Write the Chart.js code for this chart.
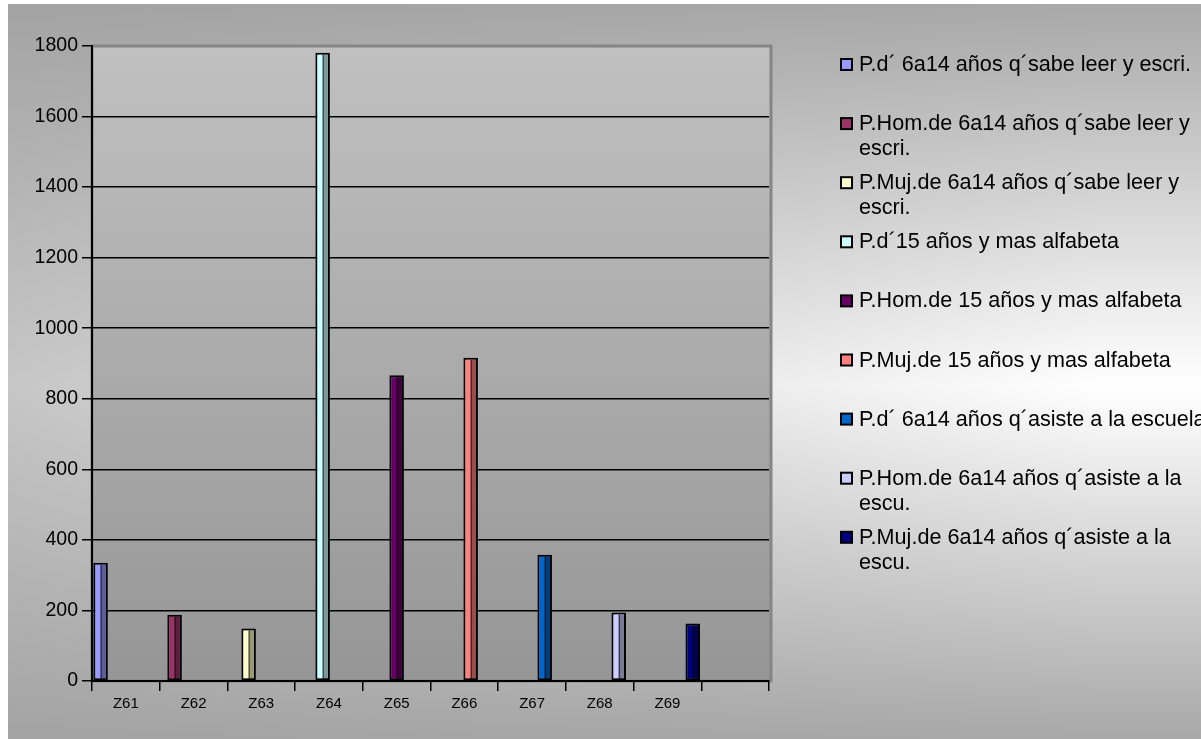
<!DOCTYPE html>
<html lang="es">
<head>
<meta charset="UTF-8">
<title>Alfabetismo y asistencia escolar por zona</title>
<script src="https://cdn.jsdelivr.net/npm/chart.js"></script>
<style>
  body { margin: 0; background: #fff; }
  #wrap { width: 1201px; height: 739px; }
</style>
</head>
<body>
<div id="wrap"><canvas id="grafico" width="1201" height="739"></canvas></div>
<script>
// zonas (la ultima categoria queda vacia, como en el original)
var zonas = ['Z61', 'Z62', 'Z63', 'Z64', 'Z65', 'Z66', 'Z67', 'Z68', 'Z69', ''];

// nombres de las series (\n = salto de linea en la leyenda)
var series = [
  'P.d\u00b4 6a14 a\u00f1os q\u00b4sabe leer y escri.',
  'P.Hom.de 6a14 a\u00f1os q\u00b4sabe leer y\nescri.',
  'P.Muj.de 6a14 a\u00f1os q\u00b4sabe leer y\nescri.',
  'P.d\u00b415 a\u00f1os y mas alfabeta',
  'P.Hom.de 15 a\u00f1os y mas alfabeta',
  'P.Muj.de 15 a\u00f1os y mas alfabeta',
  'P.d\u00b4 6a14 a\u00f1os q\u00b4asiste a la escuela',
  'P.Hom.de 6a14 a\u00f1os q\u00b4asiste a la\nescu.',
  'P.Muj.de 6a14 a\u00f1os q\u00b4asiste a la\nescu.'
];

// cada serie tiene un solo valor, en la zona del mismo indice
var valores = [335, 188, 149, 1781, 867, 916, 358, 194, 163];

var colores = ['#9999FF', '#993366', '#FFFFCC', '#CCFFFF', '#660066',
               '#FF8080', '#0066CC', '#CCCCFF', '#000080'];

var yMax = 1800;
var yPaso = 200;

var fuente = '"Liberation Sans", Arial, sans-serif';

var datasets = series.map(function (nombre, i) {
  return {
    label: nombre,
    data: zonas.map(function (z, j) { return j === i ? valores[i] : null; }),
    backgroundColor: colores[i],
    borderColor: '#000',
    borderWidth: 2,
    borderSkipped: false
  };
});

// fondo degradado + area de trazado
var fondo = {
  id: 'fondo',
  beforeDraw: function (chart) {
    var ctx = chart.ctx;
    var a = chart.chartArea;
    ctx.save();
    var g = ctx.createLinearGradient(0, 4, 0, 739);
    g.addColorStop(0, '#a8a8a8');
    g.addColorStop(0.52, '#ffffff');
    g.addColorStop(1, '#a8a8a8');
    ctx.fillStyle = g;
    ctx.fillRect(8, 4, 1193, 735);
    var h = ctx.createLinearGradient(0, 0, 1100, 0);
    h.addColorStop(0, 'rgba(160,160,160,0.6)');
    h.addColorStop(1, 'rgba(160,160,160,0)');
    ctx.fillStyle = h;
    ctx.fillRect(8, 4, 1193, 735);

    var p = ctx.createLinearGradient(0, a.top, 0, a.bottom);
    p.addColorStop(0, '#c0c0c0');
    p.addColorStop(1, '#969696');
    ctx.fillStyle = p;
    ctx.fillRect(a.left, a.top, a.right - a.left + 2, a.bottom - a.top);
    ctx.strokeStyle = '#858585';
    ctx.lineWidth = 3;
    ctx.strokeRect(a.left, a.top, a.right - a.left + 2, a.bottom - a.top);
    ctx.restore();
  }
};

// cara lateral oscura de cada barra (efecto 3D)
var relieve = {
  id: 'relieve',
  afterDatasetsDraw: function (chart) {
    var ctx = chart.ctx;
    ctx.save();
    chart.data.datasets.forEach(function (ds, i) {
      chart.getDatasetMeta(i).data.forEach(function (bar, j) {
        if (ds.data[j] == null) return;
        var b = bar.getProps(['x', 'y', 'base', 'width'], true);
        var der = b.x + b.width / 2 - 2;
        ctx.fillStyle = 'rgba(0,0,0,0.4)';
        ctx.fillRect(b.x + 1, b.y + 2, der - b.x - 1, b.base - b.y - 2);
        ctx.fillStyle = '#000';
        ctx.fillRect(b.x, b.y + 2, 1, b.base - b.y - 2);
      });
    });
    ctx.restore();
  }
};

// leyenda a la derecha con texto en varias lineas
var leyenda = {
  id: 'leyenda',
  afterDraw: function (chart) {
    var ctx = chart.ctx;
    ctx.save();
    ctx.font = '21.6px ' + fuente;
    ctx.textBaseline = 'alphabetic';
    chart.data.datasets.forEach(function (ds, i) {
      var y = 71 + i * 59.1;
      ctx.fillStyle = ds.backgroundColor;
      ctx.fillRect(841, y - 12, 11, 11);
      ctx.strokeStyle = '#000';
      ctx.lineWidth = 2;
      ctx.strokeRect(841, y - 12, 11, 11);
      ctx.fillStyle = '#000';
      ds.label.split('\n').forEach(function (linea, k) {
        ctx.fillText(linea, 859, y + k * 25);
      });
    });
    ctx.restore();
  }
};

new Chart(document.getElementById('grafico'), {
  type: 'bar',
  data: { labels: zonas, datasets: datasets },
  plugins: [fondo, relieve, leyenda],
  options: {
    responsive: false,
    animation: false,
    layout: { padding: { left: 0, top: 46, right: 432, bottom: 0 } },
    datasets: {
      bar: { categoryPercentage: 0.84, barPercentage: 2.3 }
    },
    plugins: {
      legend: { display: false },
      tooltip: { enabled: false }
    },
    scales: {
      x: {
        offset: true,
        afterFit: function (s) { s.height = 58; },
        grid: {
          offset: true,
          drawOnChartArea: false,
          color: '#000',
          lineWidth: 1.5,
          tickLength: 10
        },
        border: { color: '#000', width: 2 },
        ticks: {
          autoSkip: false,
          maxRotation: 0,
          padding: 4,
          color: '#000',
          font: { family: fuente, size: 15 }
        }
      },
      y: {
        min: 0,
        max: yMax,
        afterFit: function (s) { s.width = 92; },
        grid: {
          color: function (c) { return c.tick && c.tick.value === yMax ? 'rgba(0,0,0,0)' : '#000'; },
          tickColor: '#000',
          lineWidth: 1.5,
          tickLength: 10
        },
        border: { color: '#000', width: 2 },
        ticks: {
          stepSize: yPaso,
          padding: 4,
          color: '#000',
          font: { family: fuente, size: 19.5 },
          callback: function (v) { return String(v); }
        }
      }
    }
  }
});
</script>
</body>
</html>
